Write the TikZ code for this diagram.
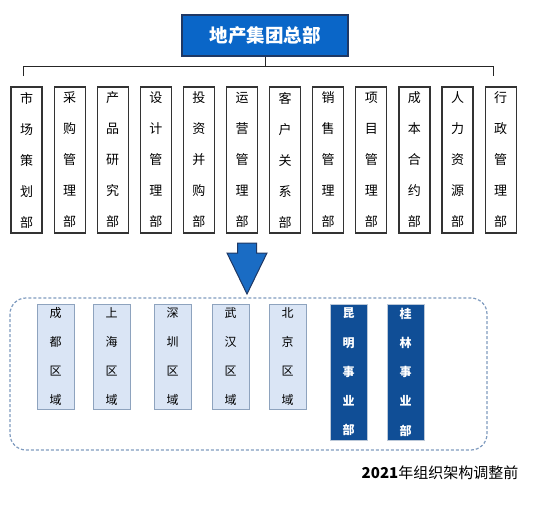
\documentclass[tikz,border=0pt]{standalone}
\usepackage{fontspec}
\newfontfamily\cjk{Noto Sans CJK SC}
\usetikzlibrary{positioning}
\definecolor{hqblue}{HTML}{0A66C8}
\definecolor{hqedge}{HTML}{1F3864}
\definecolor{arrowblue}{HTML}{1A6CC4}
\definecolor{zoneedge}{HTML}{7F9BBF}
\definecolor{regionfill}{HTML}{DAE5F5}
\definecolor{regionedge}{HTML}{8EA3BE}
\definecolor{unitblue}{HTML}{104E96}

\begin{document}
\begin{tikzpicture}[x=1pt,y=-1pt,
    hq/.style={draw=hqedge, line width=1.2pt, fill=hqblue, text=white,
        minimum width=166pt, minimum height=41pt, inner sep=0pt,
        font=\cjk\bfseries\fontsize{18.5}{22}\selectfont},
    dept/.style={draw=black!80, line width=1.2pt, fill=white,
        minimum width=31pt, minimum height=146pt, inner sep=0pt, align=center,
        font=\cjk\fontsize{13}{31}\selectfont},
    region/.style={draw=regionedge, line width=1pt, fill=regionfill,
        minimum width=37pt, minimum height=105pt, inner sep=0pt, align=center,
        font=\cjk\fontsize{12}{29}\selectfont},
    unit/.style={draw=regionedge!60, line width=0.6pt, fill=unitblue, text=white,
        minimum width=37pt, minimum height=136pt, inner sep=0pt, align=center,
        font=\cjk\bfseries\fontsize{12}{29.25}\selectfont},
    link/.style={draw=black!85, line width=1pt},
    zone/.style={draw=zoneedge, line width=1.2pt, dash pattern=on 3pt off 2pt,
        rounded corners=16pt}]
    \useasboundingbox (0,0) rectangle (550,522);

    % 总部
    \node[hq] (hq) at (265,35.5) {地产集团总部};

    % 十二个职能部门
    \node[dept] (d1) at (26.5,160) {市\\场\\策\\划\\部};
    \node[dept, right=10.9pt of d1] (d2) {采\\购\\管\\理\\部};
    \node[dept, right=10.9pt of d2] (d3) {产\\品\\研\\究\\部};
    \node[dept, right=10.9pt of d3] (d4) {设\\计\\管\\理\\部};
    \node[dept, right=10.9pt of d4] (d5) {投\\资\\并\\购\\部};
    \node[dept, right=10.9pt of d5] (d6) {运\\营\\管\\理\\部};
    \node[dept, right=10.9pt of d6] (d7) {客\\户\\关\\系\\部};
    \node[dept, right=10.9pt of d7] (d8) {销\\售\\管\\理\\部};
    \node[dept, right=10.9pt of d8] (d9) {项\\目\\管\\理\\部};
    \node[dept, right=10.9pt of d9] (d10) {成\\本\\合\\约\\部};
    \node[dept, right=10.9pt of d10] (d11) {人\\力\\资\\源\\部};
    \node[dept, right=10.9pt of d11] (d12) {行\\政\\管\\理\\部};

    % 连线
    \coordinate (barL) at (23,66.5);
    \coordinate (barR) at (493,66.5);
    \coordinate (dropL) at (23,76);
    \coordinate (dropR) at (493,76);
    \draw[link] (hq.south) -- (hq.south |- barL);
    \draw[link] (dropL) -- (barL) -- (barR) -- (dropR);

    % 向下箭头
    \draw[draw=hqedge, line width=1pt, fill=arrowblue, line join=miter]
        (237.5,243) -- (256.5,243) -- (256.5,253) -- (267,253)
        -- (247,294) -- (227,253) -- (237.5,253) -- cycle;

    % 区域公司
    \draw[zone] (10,298) rectangle (487,450);
    \node[region] (r1) at (55.5,356.5) {成\\都\\区\\域};
    \node[region] (r2) at (111.5,356.5) {上\\海\\区\\域};
    \node[region] (r3) at (172.5,356.5) {深\\圳\\区\\域};
    \node[region] (r4) at (230.5,356.5) {武\\汉\\区\\域};
    \node[region] (r5) at (287.5,356.5) {北\\京\\区\\域};
    \node[unit] (u1) at (348.5,372) {昆\\明\\事\\业\\部};
    \node[unit] (u2) at (405.5,372) {桂\\林\\事\\业\\部};

    % 标题
    \node[font=\cjk\fontsize{15}{18}\selectfont] (caption) at (440,473)
        {\textbf{2021}年组织架构调整前};
\end{tikzpicture}
\end{document}
